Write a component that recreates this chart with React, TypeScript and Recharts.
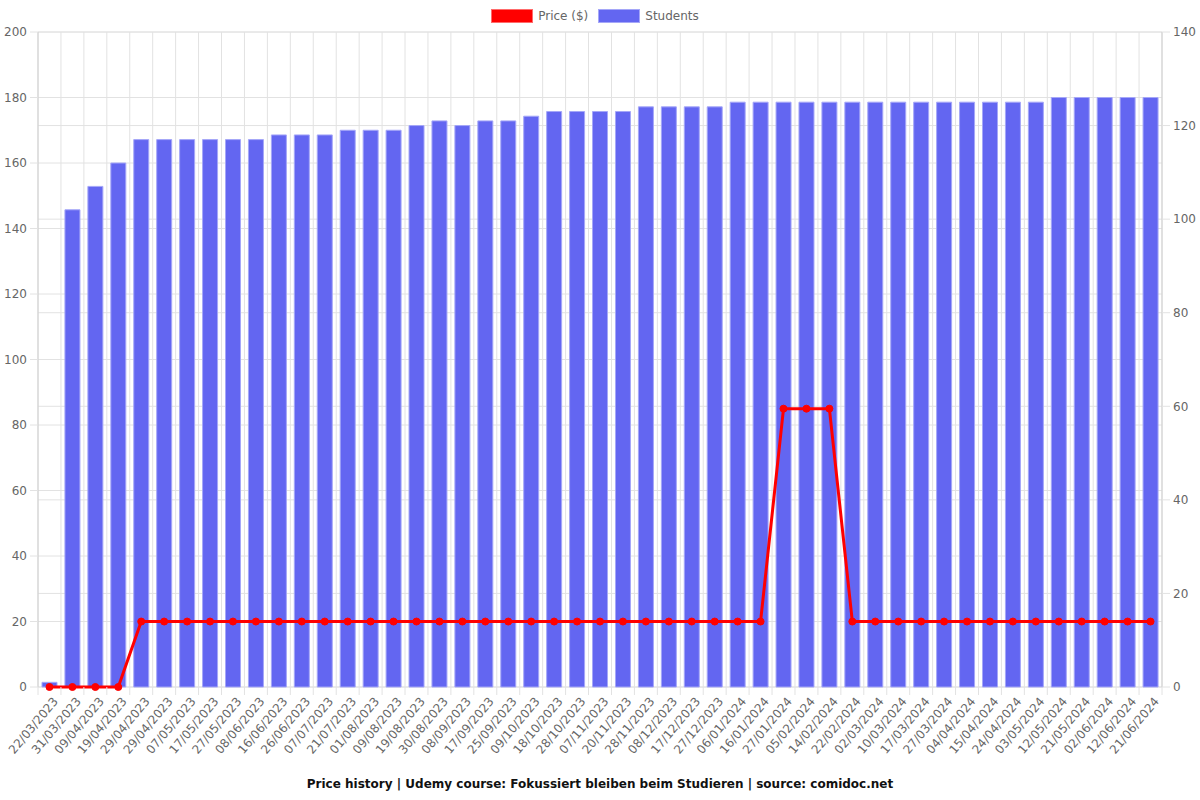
import { Bar, CartesianGrid, ComposedChart, Legend, Line, XAxis, YAxis } from "recharts";

const dates = [
  "22/03/2023", "31/03/2023", "09/04/2023", "19/04/2023", "29/04/2023", "29/04/2023",
  "07/05/2023", "17/05/2023", "27/05/2023", "08/06/2023", "16/06/2023", "26/06/2023",
  "07/07/2023", "21/07/2023", "01/08/2023", "09/08/2023", "19/08/2023", "30/08/2023",
  "08/09/2023", "17/09/2023", "25/09/2023", "09/10/2023", "18/10/2023", "28/10/2023",
  "07/11/2023", "20/11/2023", "28/11/2023", "08/12/2023", "17/12/2023", "27/12/2023",
  "06/01/2024", "16/01/2024", "27/01/2024", "05/02/2024", "14/02/2024", "22/02/2024",
  "02/03/2024", "10/03/2024", "17/03/2024", "27/03/2024", "04/04/2024", "15/04/2024",
  "24/04/2024", "03/05/2024", "12/05/2024", "21/05/2024", "02/06/2024", "12/06/2024",
  "21/06/2024",
];

const prices = [
  0, 0, 0, 0, 19.99, 19.99,
  19.99, 19.99, 19.99, 19.99, 19.99, 19.99,
  19.99, 19.99, 19.99, 19.99, 19.99, 19.99,
  19.99, 19.99, 19.99, 19.99, 19.99, 19.99,
  19.99, 19.99, 19.99, 19.99, 19.99, 19.99,
  19.99, 19.99, 84.99, 84.99, 84.99, 19.99,
  19.99, 19.99, 19.99, 19.99, 19.99, 19.99,
  19.99, 19.99, 19.99, 19.99, 19.99, 19.99,
  19.99,
];

const students = [
  1, 102, 107, 112, 117, 117,
  117, 117, 117, 117, 118, 118,
  118, 119, 119, 119, 120, 121,
  120, 121, 121, 122, 123, 123,
  123, 123, 124, 124, 124, 124,
  125, 125, 125, 125, 125, 125,
  125, 125, 125, 125, 125, 125,
  125, 125, 126, 126, 126, 126,
  126,
];

const priceTicks = [0, 20, 40, 60, 80, 100, 120, 140, 160, 180, 200];
const studentTicks = [0, 20, 40, 60, 80, 100, 120, 140];

const data = dates.map((date, i) => ({ date, price: prices[i], students: students[i] }));

const FONT = "'DejaVu Sans', sans-serif";
const GRID = "#e2e2e2";
const AXIS = "#cfcfcf";
const TEXT = "#666";
const RED = "#ff0000";
const BLUE = "#6366f1";

// vertical grid lines between categories instead of through their centres
function categoryEdges({ offset }: any) {
  const n = dates.length;
  return Array.from({ length: n + 1 }, (_, i) => offset.left + (i * offset.width) / n);
}

function DateTick(props: any) {
  const { x, y, payload, index } = props;
  const half = payload.offset ?? 0;
  const ax = x + 6;
  const ay = y + 12;
  return (
    <g>
      <line x1={x - half} x2={x - half} y1={y} y2={y + 8} stroke={GRID} />
      {index === dates.length - 1 && (
        <line x1={x + half} x2={x + half} y1={y} y2={y + 8} stroke={GRID} />
      )}
      <text
        x={ax}
        y={ay}
        dy="0.35em"
        textAnchor="end"
        transform={`rotate(-50, ${ax}, ${ay})`}
        fill={TEXT}
        fontSize={12}
        fontFamily={FONT}
      >
        {payload.value}
      </text>
    </g>
  );
}

function LegendBox({ color, border, label }: { color: string; border: string; label: string }) {
  return (
    <div style={{ display: "flex", alignItems: "center", marginRight: 10 }}>
      <div
        style={{
          width: 40,
          height: 12,
          background: color,
          border: `1px solid ${border}`,
          marginRight: 5,
        }}
      />
      <span style={{ fontSize: 12, color: TEXT, fontFamily: FONT }}>{label}</span>
    </div>
  );
}

function ChartLegend() {
  return (
    <div style={{ display: "flex", justifyContent: "center", alignItems: "center", height: 16 }}>
      <LegendBox color={RED} border="#ff6b6b" label="Price ($)" />
      <LegendBox color={BLUE} border="#a5a7f8" label="Students" />
    </div>
  );
}

export default function App() {
  return (
    <div style={{ position: "absolute", left: 0, top: 0, width: 1200, height: 800, background: "#fff" }}>
      <ComposedChart
        width={1200}
        height={800}
        data={data}
        margin={{ top: 16, right: 0, bottom: 0, left: 0 }}
      >
        <Legend
          verticalAlign="top"
          align="center"
          wrapperStyle={{ top: 8 }}
          content={() => <ChartLegend />}
        />
        <CartesianGrid
          yAxisId="left"
          stroke={GRID}
          verticalCoordinatesGenerator={categoryEdges}
        />
        <CartesianGrid yAxisId="right" stroke={GRID} vertical={false} />
        <XAxis
          dataKey="date"
          interval={0}
          height={113}
          tickSize={0}
          tickMargin={0}
          tickLine={false}
          axisLine={false}
          tick={<DateTick />}
        />
        <YAxis
          yAxisId="left"
          domain={[0, 200]}
          ticks={priceTicks}
          width={38}
          tickSize={8}
          tickMargin={3}
          tick={{ fill: TEXT, fontSize: 12, fontFamily: FONT }}
          tickLine={{ stroke: GRID }}
          axisLine={{ stroke: AXIS }}
        />
        <YAxis
          yAxisId="right"
          orientation="right"
          domain={[0, 140]}
          ticks={studentTicks}
          width={38}
          tickSize={8}
          tickMargin={3}
          tick={{ fill: TEXT, fontSize: 12, fontFamily: FONT }}
          tickLine={{ stroke: GRID }}
          axisLine={{ stroke: AXIS }}
        />
        <Bar
          yAxisId="right"
          dataKey="students"
          name="Students"
          fill={BLUE}
          stroke="#a5a7f8"
          strokeWidth={1}
          barSize={15}
          isAnimationActive={false}
        />
        <Line
          yAxisId="left"
          dataKey="price"
          name="Price ($)"
          type="linear"
          stroke={RED}
          strokeWidth={3}
          dot={{ r: 3.5, fill: RED, stroke: RED, strokeWidth: 1 }}
          isAnimationActive={false}
        />
      </ComposedChart>
      <div
        style={{
          position: "absolute",
          left: 0,
          top: 777,
          width: 1200,
          textAlign: "center",
          fontFamily: FONT,
          fontWeight: "bold",
          fontSize: 12,
          color: "#111",
        }}
      >
        Price history | Udemy course: Fokussiert bleiben beim Studieren | source: comidoc.net
      </div>
    </div>
  );
}
